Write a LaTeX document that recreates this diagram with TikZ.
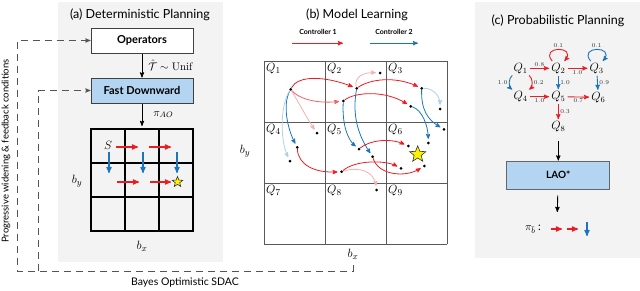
\documentclass[tikz,border=0pt]{standalone}
\usepackage{amsmath}
\usepackage{amssymb}
\usepackage[no-math]{fontspec}
\setmainfont{Lato}
\usepackage{tikz}
\usetikzlibrary{calc}
\usetikzlibrary{arrows}
\usetikzlibrary{shapes.geometric}
\definecolor{ctrlred}{HTML}{EC1C24}
\definecolor{ctrlblue}{HTML}{1C75BC}
\definecolor{panelgray}{HTML}{F3F3F3}
\definecolor{boxblue}{HTML}{B4D5F1}
\definecolor{dashgray}{HTML}{555555}

\begin{document}
\begin{tikzpicture}[x=1pt,y=-1pt,
  title/.style={font=\fontsize{12.5}{14}\selectfont},
  opbox/.style={draw=black!75, line width=1pt, minimum width=102pt, minimum height=25pt, inner sep=0, font=\fontsize{11}{12}\selectfont\bfseries},
  flow/.style={black, line width=0.9pt, ->, >=stealth'},
  feedback/.style={dashgray, line width=0.9pt, dash pattern=on 7pt off 5pt, ->, >=stealth'},
  redarr/.style={ctrlred, line width=1.2pt, ->, >=stealth'},
  bluearr/.style={ctrlblue, line width=1.2pt, ->, >=stealth'},
  traj/.style={line width=0.8pt, ->, >=stealth', shorten >=2.5pt},
  dot/.style={circle, fill=black, inner sep=0, minimum size=3pt},
  goal/.style={star, star points=5, star point ratio=2.3, fill=yellow, draw=black!80, line width=0.6pt, inner sep=0},
  qlab/.style={inner sep=1pt, font=\fontsize{13}{14}\selectfont},
  qn/.style={inner sep=1pt, font=\fontsize{12}{13}\selectfont},
  plab/.style={inner sep=1.5pt, text=black!80, font=\fontsize{6}{7}\selectfont},
  pedge/.style={line width=0.9pt, ->, >=stealth', shorten >=1pt, shorten <=1pt},
  bigmath/.style={font=\fontsize{13}{14}\selectfont}
]
\useasboundingbox (0,0) rectangle (640,290);

% (a) deterministic planning
\fill[panelgray] (58,2) rectangle (223,262);
\node[title] (titleA) at (140,15) {(a) Deterministic Planning};
\node[opbox, fill=white] (ops) at (142,40.5) {Operators};
\node[opbox, fill=boxblue] (fd) at (142,90.5) {Fast Downward};
\coordinate (gridA) at (142,126);
\draw[flow] (ops) -- (fd) node[midway, right=5pt, inner sep=1pt, font=\fontsize{11}{12}\selectfont] {$\hat{\mathcal{T}}\sim\mathrm{Unif}$};
\draw[flow] (fd) -- (gridA) node[midway, right=10pt, inner sep=1pt, font=\fontsize{11}{12}\selectfont] {$\pi_{AO}$};
\foreach \i in {0,...,3} {
  \draw[line width=1.3pt, line cap=rect] (91+34*\i,129) -- (91+34*\i,231);
  \draw[line width=1.3pt, line cap=rect] (91,129+34*\i) -- (193,129+34*\i);
}
\node[font=\fontsize{12}{13}\selectfont] (start) at (108,145) {$S$};
\draw[redarr] (116,147) -- (138,147);
\draw[redarr] (149,147) -- (171,147);
\draw[redarr] (117,182) -- (139,182);
\draw[redarr] (150,182) -- (171,182);
\foreach \x in {109,143,177} {
  \draw[bluearr] (\x,152) -- (\x,173);
}
\node[goal, minimum size=11pt] (goalA) at (177.5,182) {};
\node[bigmath] (byA) at (77,181) {$b_y$};
\node[bigmath] (bxA) at (142,246) {$b_x$};

% feedback loops
\coordinate (fbEnd) at (353,265);
\draw[feedback] (fbEnd) -- (353,271) -- (17,271) |- (ops.west);
\draw[feedback] (38,271) |- (fd.west);
\node[rotate=90, font=\fontsize{9.5}{11}\selectfont] (pwLabel) at (6,151) {Progressive widening \& feedback conditions};
\node[font=\fontsize{10.5}{12}\selectfont] (sdac) at (185,283) {Bayes Optimistic SDAC};

% (b) model learning
\node[title] (titleB) at (357,15) {(b) Model Learning};
\node[font=\fontsize{7}{8}\selectfont\bfseries] (ctrlA) at (318,32) {Controller 1};
\node[font=\fontsize{7}{8}\selectfont\bfseries] (ctrlB) at (394,32) {Controller 2};
\draw[redarr, line width=0.9pt] ($(ctrlA.south)+(-26,5)$) -- ++(51,0);
\draw[bluearr, line width=0.9pt] ($(ctrlB.south)+(-24,5)$) -- ++(48,0);
\foreach \i in {0,...,3} {
  \draw[black!65, line width=0.9pt, line cap=rect] (264+61*\i,61) -- (264+61*\i,244);
  \draw[black!65, line width=0.9pt, line cap=rect] (264,61+61*\i) -- (447,61+61*\i);
}
\foreach \r in {0,1,2} {
  \foreach \c in {0,1,2} {
    \pgfmathtruncatemacro\n{3*\r+\c+1}
    \node[qlab, anchor=north west] (Q\n) at (265+61*\c,62+61*\r) {$Q_{\n}$};
  }
}
\node[bigmath] (byB) at (245,151) {$b_y$};
\node[bigmath] (bxB) at (353,254) {$b_x$};

% sampled transitions
\node[dot] (a) at (290.7,89.3) {};
\node[dot] (b) at (356.7,88.3) {};
\node[dot] (c) at (343.3,101) {};
\node[dot] (d) at (421.7,88.3) {};
\node[dot] (e) at (410.7,106.3) {};
\node[dot] (f) at (317,133) {};
\node[dot] (g) at (380,73) {};
\node[dot] (h) at (440,109) {};
\node[dot] (i) at (444,129.3) {};
\node[dot] (j) at (428.3,143) {};
\node[dot] (k) at (297.3,147.3) {};
\node[dot] (l) at (290,161) {};
\node[dot] (m) at (359,149) {};
\node[dot] (n) at (372.7,156.7) {};
\node[dot] (o) at (341.7,171.7) {};
\node[dot] (p) at (376.7,190) {};
\node[dot] (q) at (401,168.3) {};
\node[dot] (r) at (408.3,146) {};
\node[dot] (s) at (424.3,166) {};
\node[goal, minimum size=17pt] (goalB) at (417.7,154.3) {};

\draw[traj, ctrlred] (a) .. controls (298,75) and (325,76) .. (b);
\draw[traj, ctrlred!70] (a) .. controls (298,98) and (315,104) .. (c);
\draw[traj, ctrlred!35] (a) .. controls (300,105) and (308,120) .. (f);
\draw[traj, ctrlred] (b) .. controls (370,79) and (395,76) .. (d);
\draw[traj, ctrlred!35] (b) .. controls (354,78) and (362,72) .. (g);
\draw[traj, ctrlred] (c) .. controls (355,92) and (385,90) .. (e);
\draw[traj, ctrlblue!35] (d) .. controls (435,88) and (440,98) .. (h);
\draw[traj, ctrlblue] (d) .. controls (421,110) and (428,120) .. (i);
\draw[traj, ctrlblue] (e) .. controls (422,110) and (428,125) .. (j);
\draw[traj, ctrlblue] (a) .. controls (282,105) and (288,130) .. (k);
\draw[traj, ctrlblue!35] (a) .. controls (280,105) and (280,140) .. (l);
\draw[traj, ctrlblue] (b) .. controls (352,115) and (358,135) .. (n);
\draw[traj, ctrlblue] (c) .. controls (342,125) and (348,140) .. (m);
\draw[traj, ctrlred] (k) .. controls (298,165) and (315,173) .. (o);
\draw[traj, ctrlred!35] (o) .. controls (360,166) and (374,172) .. (p);
\draw[traj, ctrlred] (o) .. controls (355,160) and (385,160) .. (q);
\draw[traj, ctrlred] (m) .. controls (370,140) and (390,138) .. (r);
\draw[traj, ctrlred] (n) .. controls (378,175) and (405,178) .. (s);

% (c) probabilistic planning
\fill[panelgray] (475,2) rectangle (640,258);
\node[title] (titleC) at (558,20.7) {(c) Probabilistic Planning};
\node[qn] (q1) at (520.7,68.3) {$Q_1$};
\node[qn] (q2) at (558.3,68.3) {$Q_2$};
\node[qn] (q3) at (596.7,68.3) {$Q_3$};
\node[qn] (q4) at (520.7,96.7) {$Q_4$};
\node[qn] (q5) at (558.3,96.7) {$Q_5$};
\node[qn] (q6) at (598.3,97.3) {$Q_6$};
\node[qn] (q8) at (558.3,126.7) {$Q_8$};
\draw[pedge, ctrlred] (q1) -- (q2) node[midway, above, plab] {$0.8$};
\draw[pedge, ctrlred] (q2) -- (q3) node[midway, below, plab] {$1.0$};
\draw[pedge, ctrlred] (q2) to[out=130, in=50, looseness=5] node[above, plab] {$0.1$} (q2);
\draw[pedge, ctrlblue] (q3) to[out=130, in=50, looseness=5] node[above, plab] {$0.1$} (q3);
\draw[pedge, ctrlblue] (q1) to[out=-140, in=140] node[left, plab] {$1.0$} (q4);
\draw[pedge, ctrlred] (q1) to[out=-40, in=40] node[right, plab] {$0.2$} (q4);
\draw[pedge, ctrlblue] (q2) -- (q5) node[midway, right, plab] {$1.0$};
\draw[pedge, ctrlblue] (q3) -- (q6) node[midway, right, plab] {$0.9$};
\draw[pedge, ctrlred] (q4) -- (q5) node[midway, below, plab] {$1.0$};
\draw[pedge, ctrlred] (q5) -- (q6) node[midway, below, plab] {$0.7$};
\draw[pedge, ctrlred] (q5) -- (q8) node[midway, right, plab] {$0.3$};
\node[draw=black!60, line width=0.9pt, fill=boxblue, minimum width=103pt, minimum height=28pt, font=\fontsize{10}{11}\selectfont\bfseries] (lao) at (558.3,175) {LAO*};
\draw[flow, shorten <=8pt] (q8) -- (lao);
\coordinate (laoOut) at (557.3,212);
\draw[flow, shorten <=6pt] (lao) -- (laoOut);
\node[inner sep=1pt, font=\fontsize{11}{12}\selectfont] (pib) at (533,229) {$\pi_{\bar{b}}$ :};
\draw[redarr] (551,229) -- (562,229);
\draw[redarr] (567,229) -- (578,229);
\draw[bluearr] (587,222) -- (587,236);
\end{tikzpicture}
\end{document}
